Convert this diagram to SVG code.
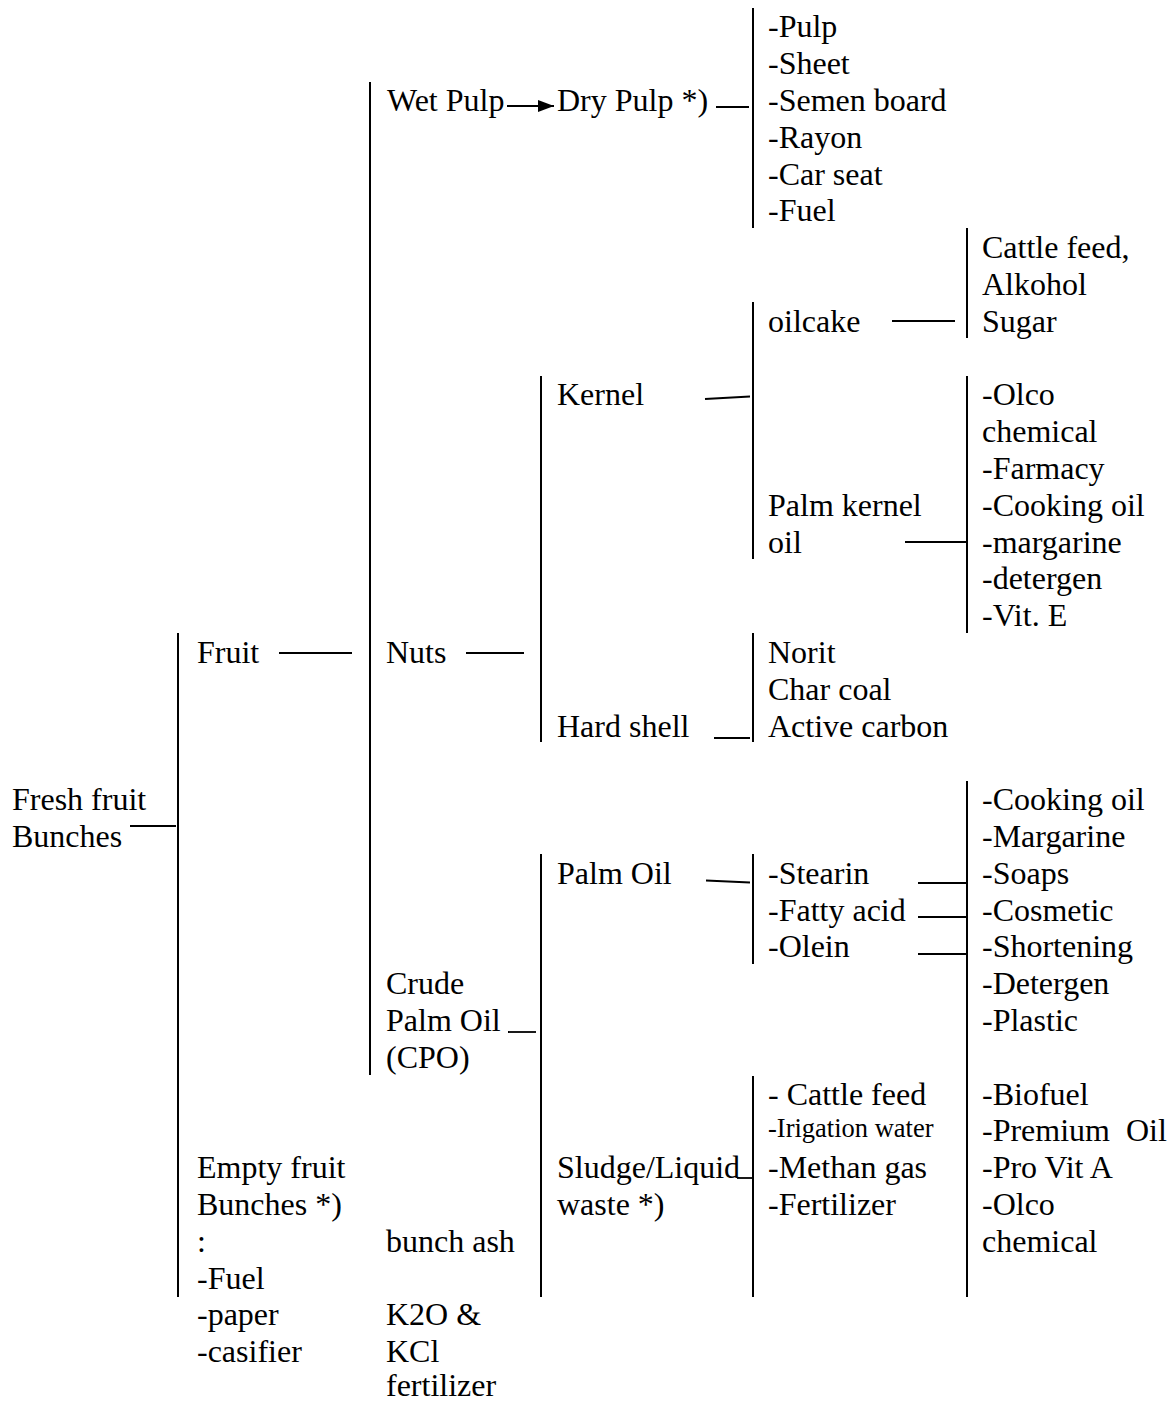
<svg xmlns="http://www.w3.org/2000/svg" width="1175" height="1403" viewBox="0 0 1175 1403">
<style>
text{font-family:"Liberation Serif","Times New Roman",serif;font-size:32px;fill:#000}
.sm{font-size:26.5px}
.v{stroke:#000;stroke-width:2;fill:none}
.h{stroke:#000;stroke-width:1.8;fill:none}
</style>
<defs>
<marker id="ah" markerUnits="userSpaceOnUse" markerWidth="17" markerHeight="13" refX="16" refY="6.5" orient="auto">
<path d="M0,0.5 L16,6.5 L0,12.5 z" fill="#000"/>
</marker>
</defs>
<rect width="1175" height="1403" fill="#fff"/>
<g id="connectors">
<line class="v" x1="178" y1="633" x2="178" y2="1297"/>
<line class="v" x1="370" y1="82" x2="370" y2="1075"/>
<line class="v" x1="541" y1="376" x2="541" y2="742"/>
<line class="v" x1="541" y1="854" x2="541" y2="1297"/>
<line class="v" x1="753" y1="8" x2="753" y2="228"/>
<line class="v" x1="753" y1="302" x2="753" y2="559"/>
<line class="v" x1="753" y1="633" x2="753" y2="742"/>
<line class="v" x1="753" y1="854" x2="753" y2="964"/>
<line class="v" x1="753" y1="1076" x2="753" y2="1297"/>
<line class="v" x1="967" y1="228" x2="967" y2="338"/>
<line class="v" x1="967" y1="376" x2="967" y2="633"/>
<line class="v" x1="967" y1="781" x2="967" y2="1297"/>
<line class="h" x1="130" y1="826" x2="176" y2="826"/>
<line class="h" x1="279" y1="653" x2="352" y2="653"/>
<line class="h" x1="466" y1="653" x2="524" y2="653"/>
<line class="h" x1="507" y1="106" x2="554" y2="106" marker-end="url(#ah)"/>
<line class="h" x1="716" y1="107" x2="749" y2="107"/>
<line class="h" x1="705" y1="399" x2="750" y2="396.5"/>
<line class="h" x1="892" y1="321" x2="955" y2="321"/>
<line class="h" x1="905" y1="542" x2="968" y2="542"/>
<line class="h" x1="714" y1="738" x2="750" y2="738"/>
<line class="h" x1="706" y1="880.5" x2="750" y2="882.5"/>
<line class="h" x1="918" y1="883" x2="967" y2="883"/>
<line class="h" x1="918" y1="917" x2="967" y2="917"/>
<line class="h" x1="918" y1="954" x2="967" y2="954"/>
<line class="h" x1="508" y1="1032" x2="536" y2="1032"/>
<line class="h" x1="737" y1="1178" x2="752" y2="1178"/>
</g>
<g id="fresh-fruit-bunches"><text x="12" y="810.2">Fresh fruit</text><text x="12" y="847">Bunches</text></g>
<g id="fruit"><text x="197" y="663">Fruit</text></g>
<g id="empty-fruit-bunches"><text x="197" y="1178.2">Empty fruit</text><text x="197" y="1215">Bunches *)</text><text x="197" y="1251.8">:</text><text x="197" y="1288.6">-Fuel</text><text x="197" y="1325.4">-paper</text><text x="197" y="1362.2">-casifier</text></g>
<g id="wet-pulp"><text x="387" y="111">Wet Pulp</text></g>
<g id="nuts"><text x="386" y="663">Nuts</text></g>
<g id="cpo"><text x="386" y="994.2">Crude</text><text x="386" y="1031">Palm Oil</text><text x="386" y="1067.8">(CPO)</text></g>
<g id="bunch-ash"><text x="386" y="1251.8">bunch ash</text><text x="386" y="1325.4">K2O &amp;</text><text x="386" y="1362.2">KCl</text><text x="386" y="1396">fertilizer</text></g>
<g id="dry-pulp"><text x="557" y="111">Dry Pulp *)</text></g>
<g id="kernel"><text x="557" y="405.4">Kernel</text></g>
<g id="hard-shell"><text x="557" y="736.6">Hard shell</text></g>
<g id="palm-oil"><text x="557" y="883.8">Palm Oil</text></g>
<g id="sludge"><text x="557" y="1178.2">Sludge/Liquid</text><text x="557" y="1215">waste *)</text></g>
<g id="pulp-products"><text x="768" y="37.4">-Pulp</text><text x="768" y="74.2">-Sheet</text><text x="768" y="111">-Semen board</text><text x="768" y="147.8">-Rayon</text><text x="768" y="184.6">-Car seat</text><text x="768" y="221.4">-Fuel</text></g>
<g id="oilcake"><text x="768" y="331.8">oilcake</text></g>
<g id="palm-kernel-oil"><text x="768" y="515.8">Palm kernel</text><text x="768" y="552.6">oil</text></g>
<g id="shell-products"><text x="768" y="663">Norit</text><text x="768" y="699.8">Char coal</text><text x="768" y="736.6">Active carbon</text></g>
<g id="palm-oil-fractions"><text x="768" y="883.8">-Stearin</text><text x="768" y="920.6">-Fatty acid</text><text x="768" y="957.4">-Olein</text></g>
<g id="sludge-products"><text x="768" y="1104.6">- Cattle feed</text><text class="sm" x="768" y="1137">-Irigation water</text><text x="768" y="1178.2">-Methan gas</text><text x="768" y="1215">-Fertilizer</text></g>
<g id="oilcake-products"><text x="982" y="258.2">Cattle feed,</text><text x="982" y="295">Alkohol</text><text x="982" y="331.8">Sugar</text></g>
<g id="pko-products"><text x="982" y="405.4">-Olco</text><text x="982" y="442.2">chemical</text><text x="982" y="479">-Farmacy</text><text x="982" y="515.8">-Cooking oil</text><text x="982" y="552.6">-margarine</text><text x="982" y="589.4">-detergen</text><text x="982" y="626.2">-Vit. E</text></g>
<g id="palm-oil-products"><text x="982" y="810.2">-Cooking oil</text><text x="982" y="847">-Margarine</text><text x="982" y="883.8">-Soaps</text><text x="982" y="920.6">-Cosmetic</text><text x="982" y="957.4">-Shortening</text><text x="982" y="994.2">-Detergen</text><text x="982" y="1031">-Plastic</text><text x="982" y="1104.6">-Biofuel</text><text x="982" y="1141.4">-Premium&#160; Oil</text><text x="982" y="1178.2">-Pro Vit A</text><text x="982" y="1215">-Olco</text><text x="982" y="1251.8">chemical</text></g>
</svg>
